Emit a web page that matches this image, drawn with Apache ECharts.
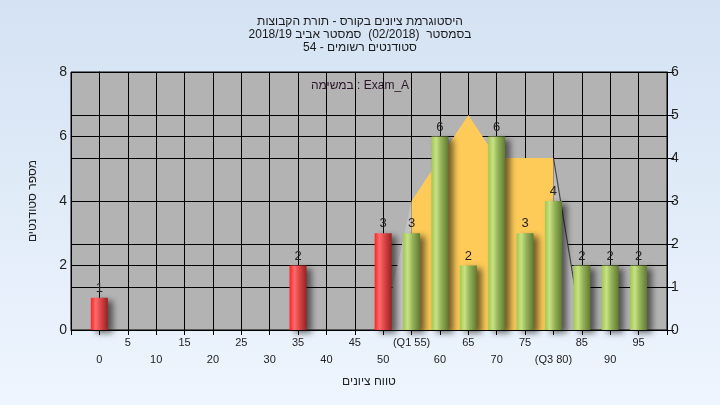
<!DOCTYPE html>
<html>
<head>
<meta charset="utf-8">
<script src="https://cdn.jsdelivr.net/npm/echarts@6/dist/echarts.min.js"></script>
<style>
html,body{margin:0;padding:0;}
#chart{width:720px;height:405px;}
</style>
</head>
<body>
<div id="chart"></div>
<script>
// ---- data ----
var scoreBins = [0,5,10,15,20,25,30,35,40,45,50,55,60,65,70,75,80,85,90,95];
var tickLabels = ['0','5','10','15','20','25','30','35','40','45','50','(Q1 55)','60','65','70','75','(Q3 80)','85','90','95'];
var barScores = [0,35,50,55,60,65,70,75,80,85,90,95];
var barCounts = [1,2,3,3,6,2,6,3,4,2,2,2];
var passScore = 55;
var curveScores = [50,55,60,65,70,75,80,85];
var curveValues = [0,3,4,5,4,4,4,0];
var titleLines = ['היסטוגרמת ציונים בקורס - תורת הקבוצות','בסמסטר  (02/2018)  סמסטר אביב 2018/19','סטודנטים רשומים - 54'];
var legendText = 'במשימה : Exam_A';
var xName = 'טווח ציונים';
var yName = 'מספר סטודנטים';

var FONT = '"Liberation Sans", Arial, sans-serif';

function grad(stops){
  return new echarts.graphic.LinearGradient(0,0,1,0, stops.map(function(s){return {offset:s[0], color:s[1]};}));
}
var redGrad = grad([[0,'#ff2222'],[0.28,'#ff6a6a'],[0.55,'#e04848'],[1,'#962222']]);
var greenGrad = grad([[0,'#a2c850'],[0.28,'#c8e284'],[0.55,'#97b55a'],[1,'#5f7a32']]);

var barData = barScores.map(function(s,i){
  return {value:[s, barCounts[i]], itemStyle:{color: s < passScore ? redGrad : greenGrad}};
});

// curve split: rising edge (50-55), main body (55-80), falling edge (80-85)
var curvePts = curveScores.map(function(s,i){return [s, curveValues[i]];});
var leftEdge = curvePts.slice(0,2);
var mainBody = curvePts.slice(1, curvePts.length-1);
var rightEdge = curvePts.slice(curvePts.length-2);

var labelMap = {};
scoreBins.forEach(function(s,i){labelMap[s]=tickLabels[i];});

var chart = echarts.init(document.getElementById('chart'));
chart.setOption({
  animation:false,
  backgroundColor: new echarts.graphic.LinearGradient(0,0,0,1,[{offset:0,color:'#d4e2f3'},{offset:1,color:'#eef5fe'}]),
  title:{
    text: titleLines.join('\n'),
    left:'center', top:10,
    textStyle:{fontFamily:FONT, fontSize:12, fontWeight:'normal', color:'#1a1a1a', lineHeight:13}
  },
  graphic:[{
    type:'text', left:'center', top:80,
    style:{text:legendText, font:'12px '+FONT, fill:'#2a1628'}
  }],
  grid:{left:71, right:53, top:72, bottom:75, show:true, backgroundColor:'#b3b3b3', borderColor:'#000', borderWidth:1},
  xAxis:{
    type:'value', min:-5, max:100, interval:5,
    name:xName, nameLocation:'middle', nameGap:46,
    nameTextStyle:{fontFamily:FONT, fontSize:12, color:'#222'},
    axisLine:{show:true, onZero:false, lineStyle:{color:'#000'}},
    axisTick:{show:true, length:5, lineStyle:{color:'#000'}},
    splitLine:{show:true, lineStyle:{color:'#000', width:1}},
    axisLabel:{
      margin:4, fontFamily:FONT, fontSize:11, color:'#222', lineHeight:17,
      showMinLabel:true, showMaxLabel:true,
      formatter:function(v){
        var t = labelMap[v];
        if(t === undefined) return '';
        return (v % 10 === 5) ? t : '\n' + t;
      }
    }
  },
  yAxis:[{
    type:'value', min:0, max:8, interval:2, position:'left',
    name:yName, nameLocation:'middle', nameGap:32, nameRotate:90,
    nameTextStyle:{fontFamily:FONT, fontSize:12, color:'#222'},
    axisLine:{show:true, lineStyle:{color:'#000'}},
    axisTick:{show:true, length:7, lineStyle:{color:'#000'}},
    splitLine:{show:true, lineStyle:{color:'#000', width:1}},
    axisLabel:{margin:4, fontFamily:FONT, fontSize:14, color:'#222'}
  },{
    type:'value', min:0, max:6, interval:1, position:'right',
    axisLine:{show:true, lineStyle:{color:'#000'}},
    axisTick:{show:true, length:7, lineStyle:{color:'#000'}},
    splitLine:{show:true, lineStyle:{color:'#000', width:1}},
    axisLabel:{margin:4, fontFamily:FONT, fontSize:14, color:'#222'}
  }],
  series:[{
    type:'line', yAxisIndex:1, data:leftEdge, symbol:'none', z:2,
    lineStyle:{width:0}, areaStyle:{color:'#c4c4c4', opacity:1}
  },{
    type:'line', yAxisIndex:1, data:mainBody, symbol:'none', z:2,
    lineStyle:{width:0}, areaStyle:{color:'#fecb58', opacity:1}
  },{
    type:'line', yAxisIndex:1, data:rightEdge, symbol:'none', z:2,
    lineStyle:{width:1.2, color:'#444'}, areaStyle:{color:'#bcbcbc', opacity:1}
  },{
    type:'bar', yAxisIndex:0, data:barData, barWidth:17, z:3,
    itemStyle:{shadowColor:'rgba(0,0,0,0.55)', shadowBlur:6, shadowOffsetX:5, shadowOffsetY:3},
    label:{show:true, position:'top', distance:3, fontFamily:FONT, fontSize:13, color:'#222',
      formatter:function(p){return p.value[1];}}
  }]
});
</script>
</body>
</html>
